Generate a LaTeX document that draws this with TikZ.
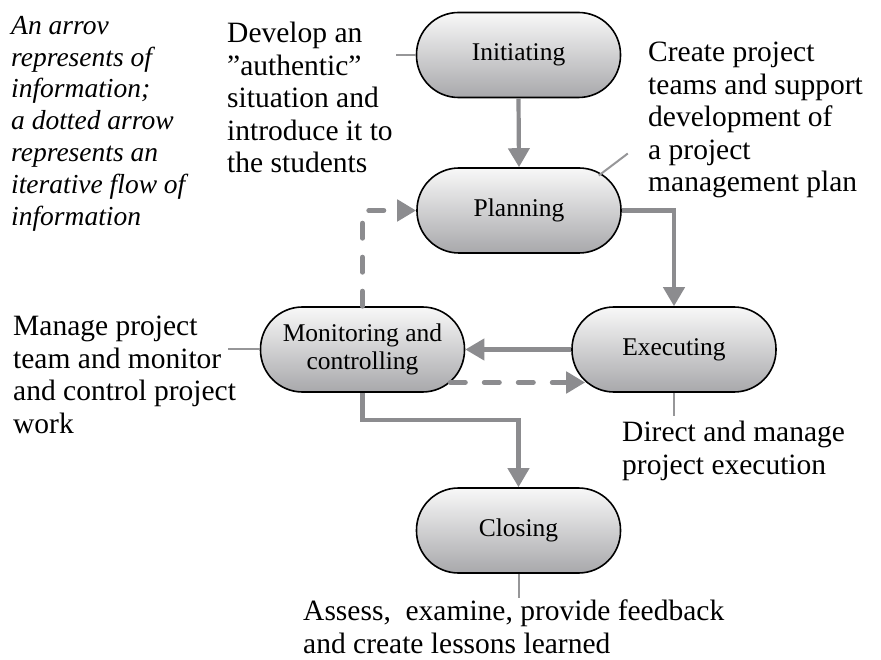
\documentclass[tikz,border=0pt]{standalone}
\usepackage{fontspec}
\setmainfont{Liberation Serif}
\usetikzlibrary{arrows.meta}
\definecolor{agray}{RGB}{140,140,143}
\definecolor{ngray}{RGB}{150,150,152}
\definecolor{ntop}{RGB}{248,248,248}
\definecolor{nbot}{RGB}{168,168,171}
\tikzset{
  phase/.style={draw=black, line width=1.6pt, rounded corners=42pt,
    minimum width=204pt, minimum height=85pt, inner sep=0pt,
    top color=ntop, bottom color=nbot, align=center,
    font=\fontsize{25.5}{28}\selectfont},
  flow/.style={draw=agray, line width=4.2pt, -{Triangle[width=21pt,length=19pt]}},
  iter/.style={draw=agray, line width=5pt, line cap=round, dash pattern=on 15pt off 19pt,
    -{Triangle[width=21pt,length=19pt]}},
  note/.style={draw=ngray, line width=2pt},
  txt/.style={anchor=north west, align=left, inner sep=0pt,
    font=\fontsize{29.5}{32.5}\selectfont},
  itxt/.style={anchor=north west, align=left, inner sep=0pt,
    font=\fontsize{27.5}{31.8}\selectfont\itshape}
}
\begin{document}
\begin{tikzpicture}[x=1pt,y=-1pt]
\useasboundingbox (0,0) rectangle (881,660);

\node[phase] (ini) at (518.5,55) {Initiating};
\node[phase] (plan) at (519,210.5) {Planning};
\node[phase] (mon) at (362.5,349.5) {Monitoring and\\controlling};
\node[phase] (exe) at (674,349.5) {Executing};
\node[phase] (clo) at (518.5,530.5) {Closing};

\path (mon.south) ++(0,27) coordinate (turn);

\draw[flow] (ini.south) -- (plan.north);
\draw[flow] (plan.east) -| (exe.north);
\draw[flow] (exe.west) -- (mon.east);
\draw[flow] (mon.south) -- (turn) -| (clo.north);
\draw[iter] (mon.north) |- (plan.west);
\draw[iter] ([xshift=-15pt,yshift=-33pt]mon.east) -- ([xshift=14pt,yshift=-33pt]exe.west);

\draw[note] (ini.west) -- ++(-20,0) coordinate (n1);
\draw[note] ([xshift=-23pt,yshift=35pt]plan.east) -- ++(29,-22) coordinate (n2);
\draw[note] (mon.west) -- ++(-32,0) coordinate (n3);
\draw[note] (exe.south) -- ++(0,23) coordinate (n4);
\draw[note] (clo.south) -- ++(0,24) coordinate (n5);

\node[itxt] (legend) at (11,16) {An arrov\\represents of\\information;\\a dotted arrow\\represents an\\iterative flow of\\information};
\node[txt] (t1) at (227,22) {Develop an\\”authentic”\\situation and\\introduce it to\\the students};
\node[txt] (t2) at (648,42) {Create project\\teams and support\\development of\\a project\\management plan};
\node[txt] (t3) at (13,316) {Manage project\\team and monitor\\and control project\\work};
\node[txt] (t4) at (622,421) {Direct and manage\\project execution};
\node[txt] (t5) at (303,600) {Assess,\ \ examine, provide feedback\\and create lessons learned};
\end{tikzpicture}
\end{document}
